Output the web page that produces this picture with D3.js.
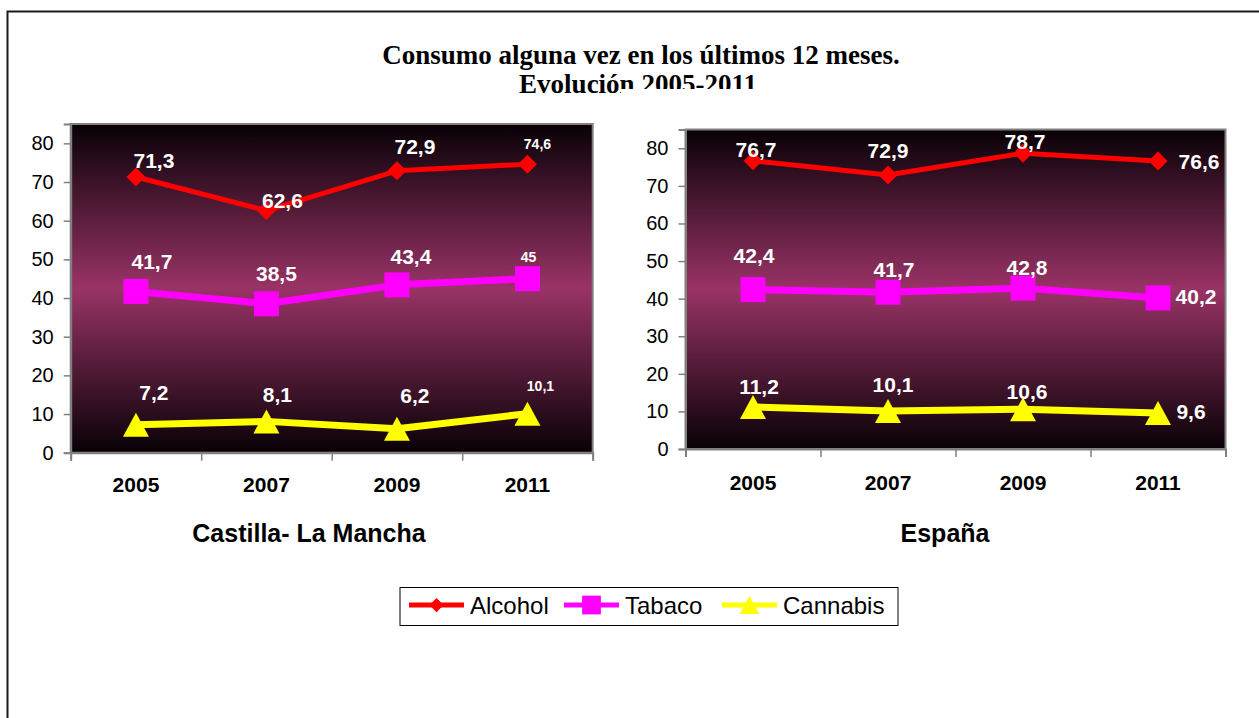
<!DOCTYPE html>
<html>
<head>
<meta charset="utf-8">
<script src="https://cdn.jsdelivr.net/npm/d3@7"></script>
<style>
  body { margin: 0; background: #fff; }
  text { font-family: "Liberation Sans", Arial, sans-serif; }
</style>
</head>
<body>
<div id="chart"></div>
<script>
// categories and values
var years = ["2005", "2007", "2009", "2011"]
var seriesNames = ["Alcohol", "Tabaco", "Cannabis"]
var yTicks = [0, 10, 20, 30, 40, 50, 60, 70, 80]

var clmAlcohol = [71.3, 62.6, 72.9, 74.6]
var clmTabaco = [41.7, 38.5, 43.4, 45]
var clmCannabis = [7.2, 8.1, 6.2, 10.1]

var espAlcohol = [76.7, 72.9, 78.7, 76.6]
var espTabaco = [42.4, 41.7, 42.8, 40.2]
var espCannabis = [11.2, 10.1, 10.6, 9.6]

var width = 1259
var height = 718

var colors = ["#ff0000", "#ff00ff", "#ffff00"]
var lineWidths = [5, 7, 7]

var locale = d3.formatLocale({ decimal: ",", thousands: ".", grouping: [3], currency: ["", "€"] })
var fmt = locale.format("")

// marker shapes (path strings around 0,0)
function marker(i, s) {
  if (i === 0) { var h = 9.5 * s; return "M0," + (-h) + "L" + h + ",0L0," + h + "L" + (-h) + ",0Z" }
  if (i === 1) { var q = 12.5 * s; return "M" + (-q) + "," + (-q) + "H" + q + "V" + q + "H" + (-q) + "Z" }
  var w = 13 * s, t = 12 * s
  return "M0," + (-t) + "L" + w + "," + t + "L" + (-w) + "," + t + "Z"
}

var svg = d3.select("#chart").append("svg")
  .attr("width", width)
  .attr("height", height)

svg.append("rect").attr("width", width).attr("height", height).attr("fill", "#fff")

var defs = svg.append("defs")
var grad = defs.append("linearGradient").attr("id", "bg").attr("x1", 0).attr("y1", 0).attr("x2", 0).attr("y2", 1)
grad.append("stop").attr("offset", "0%").attr("stop-color", "#080106")
grad.append("stop").attr("offset", "50%").attr("stop-color", "#993366")
grad.append("stop").attr("offset", "100%").attr("stop-color", "#080106")

// outer frame
svg.append("path")
  .attr("d", "M7.5," + height + "V11.5H" + width)
  .attr("fill", "none").attr("stroke", "#1a1a1a").attr("stroke-width", 2)

// title
var title = svg.append("g")
  .attr("font-weight", "bold").attr("font-size", 27).attr("text-anchor", "middle")
title.append("text").attr("x", 641).attr("y", 64).style("font-family", "'Liberation Serif', 'Times New Roman', serif")
  .text("Consumo alguna vez en los últimos 12 meses.")
title.append("text").attr("x", 638).attr("y", 93).style("font-family", "'Liberation Serif', 'Times New Roman', serif")
  .text("Evolución 2005-2011")
// the right chart object covers the lower part of the second title line
svg.append("rect").attr("x", 621).attr("y", 89).attr("width", 640).attr("height", 40).attr("fill", "#fff")

// label nudges (dx, dy from the point) for each panel
var nudgeLeft = [
  [[18, -17], [16, -10], [18, -24], [10, -20]],
  [[16, -30], [10, -30], [14, -28], [1, -22]],
  [[18, -32], [11, -27], [18, -33], [13, -28]]
]
var nudgeRight = [
  [[3, -11], [0, -25], [2, -12], [41, 0]],
  [[1, -34], [6, -23], [4, -21], [38, -1]],
  [[6, -20], [5, -27], [4, -18], [33, -1]]
]

var panels = [
  { name: "Castilla- La Mancha", data: [clmAlcohol, clmTabaco, clmCannabis],
    left: 70.7, right: 592.7, top: 124, bottom: 452.7, xPad: 24, titleX: 309, nudge: nudgeLeft, smallLast: true },
  { name: "España", data: [espAlcohol, espTabaco, espCannabis],
    left: 685.5, right: 1225.5, top: 129.5, bottom: 449, xPad: 26, titleX: 945, nudge: nudgeRight, smallLast: false }
]

panels.forEach(function (p) {
  var x = d3.scaleBand().domain(years).range([p.left, p.right])
  var y = d3.scaleLinear().domain([0, 85]).range([p.bottom, p.top])
  var g = svg.append("g")

  g.append("rect")
    .attr("x", p.left).attr("y", p.top)
    .attr("width", p.right - p.left).attr("height", p.bottom - p.top)
    .attr("fill", "url(#bg)").attr("stroke", "#808080").attr("stroke-width", 2)

  // y axis
  var ya = g.append("g").attr("transform", "translate(" + p.left + ",0)")
    .call(d3.axisLeft(y).tickValues(yTicks).tickSize(7).tickPadding(10))
  ya.select(".domain").attr("stroke", "#808080").attr("stroke-width", 2)
  ya.selectAll(".tick line").attr("stroke", "#808080").attr("stroke-width", 1.5)
  ya.selectAll(".tick text").attr("font-size", 20).attr("fill", "#000")
    .style("font-family", "'Liberation Sans', Arial, sans-serif")

  // x axis: ticks at band edges
  var edges = d3.scaleLinear().domain([0, years.length]).range([p.left, p.right])
  var xe = g.append("g").attr("transform", "translate(0," + p.bottom + ")")
    .call(d3.axisBottom(edges).tickValues(d3.range(years.length + 1)).tickSize(8).tickFormat(""))
  xe.select(".domain").attr("stroke", "#808080").attr("stroke-width", 2)
  xe.selectAll(".tick line").attr("stroke", "#808080").attr("stroke-width", 1.5)

  var xa = g.append("g").attr("transform", "translate(0," + p.bottom + ")")
    .call(d3.axisBottom(x).tickSize(0).tickPadding(p.xPad))
  xa.select(".domain").remove()
  xa.selectAll(".tick text").attr("font-size", 21).attr("font-weight", "bold").attr("fill", "#000")
    .style("font-family", "'Liberation Sans', Arial, sans-serif")

  var cx = function (d, i) { return x(years[i]) + x.bandwidth() / 2 }

  // lines and markers
  p.data.forEach(function (vals, s) {
    var line = d3.line().x(function (d, i) { return cx(d, i) }).y(function (d) { return y(d) })
    g.append("path").datum(vals)
      .attr("d", line).attr("fill", "none")
      .attr("stroke", colors[s]).attr("stroke-width", lineWidths[s])
      .attr("stroke-linejoin", "round")

    g.selectAll(".m" + s).data(vals).enter().append("path")
      .attr("class", "m" + s)
      .attr("transform", function (d, i) { return "translate(" + cx(d, i) + "," + y(d) + ")" })
      .attr("d", marker(s, 1))
      .attr("fill", colors[s])
  })

  // data labels
  p.data.forEach(function (vals, s) {
    g.selectAll(".l" + s).data(vals).enter().append("text")
      .attr("class", "l" + s)
      .attr("x", function (d, i) { return cx(d, i) + p.nudge[s][i][0] })
      .attr("y", function (d, i) { return y(d) + p.nudge[s][i][1] })
      .attr("dy", "0.36em")
      .attr("text-anchor", "middle")
      .attr("font-weight", "bold")
      .attr("font-size", function (d, i) { return (p.smallLast && i === years.length - 1) ? 14 : 21 })
      .attr("fill", "#fff")
      .text(function (d) { return fmt(d) })
  })

  // panel name
  g.append("text").attr("x", p.titleX).attr("y", 542)
    .attr("text-anchor", "middle").attr("font-weight", "bold").attr("font-size", 25)
    .text(p.name)
})

// legend
var legend = svg.append("g")
legend.append("rect").attr("x", 400).attr("y", 587.5).attr("width", 498).attr("height", 38)
  .attr("fill", "#fff").attr("stroke", "#000").attr("stroke-width", 1)
var legX = [409, 564, 722]
seriesNames.forEach(function (n, s) {
  var lg = legend.append("g").attr("transform", "translate(" + legX[s] + ",605)")
  lg.append("line").attr("x1", 0).attr("x2", 55).attr("stroke", colors[s]).attr("stroke-width", 5)
  lg.append("path").attr("transform", "translate(27.5,0)").attr("d", marker(s, 0.75)).attr("fill", colors[s])
  lg.append("text").attr("x", 61).attr("y", 0).attr("dy", "0.36em")
    .attr("font-size", 24).attr("fill", "#000").text(n)
})
</script>
</body>
</html>
